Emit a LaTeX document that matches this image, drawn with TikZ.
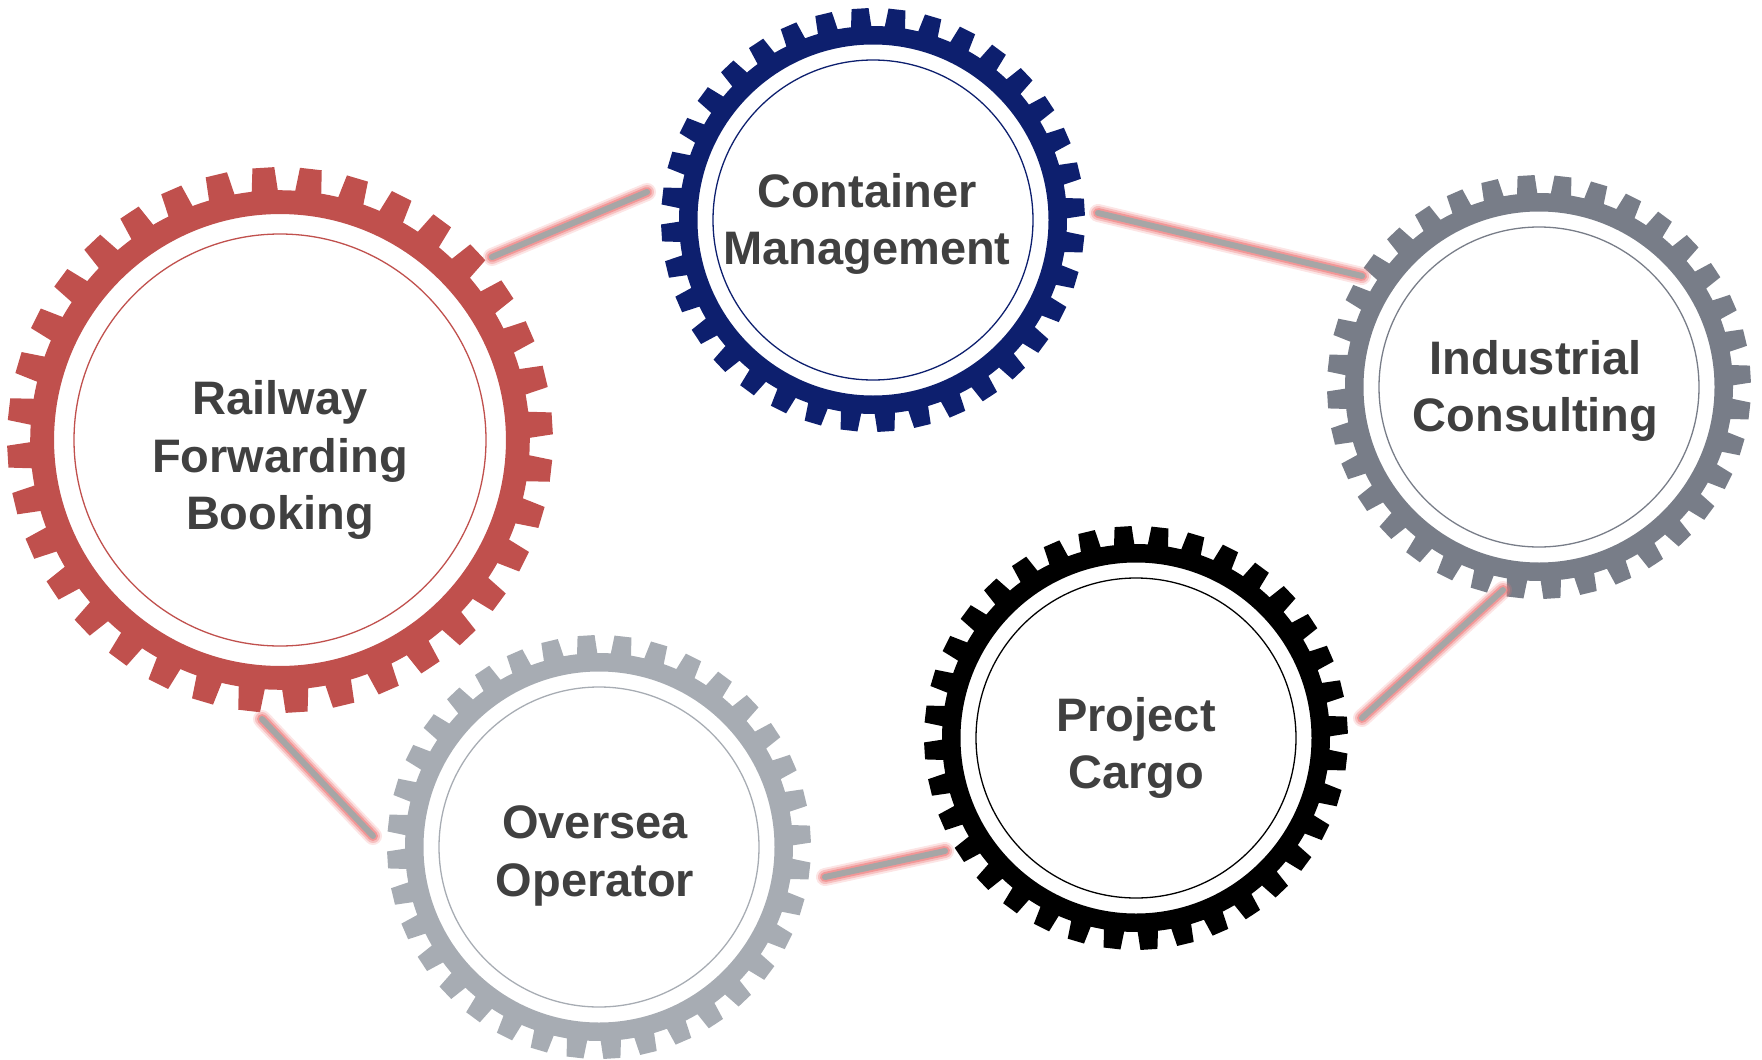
\documentclass[tikz,border=0pt]{standalone}
\usepackage{fontspec}
\setmainfont{Liberation Sans}
\usepackage{xcolor}
\usetikzlibrary{calc}

\definecolor{railred}{HTML}{C0504D}
\definecolor{contnavy}{HTML}{0D1F6E}
\definecolor{indgray}{HTML}{787D88}
\definecolor{ovgray}{HTML}{A7ACB3}
\definecolor{labelgray}{HTML}{404040}
\definecolor{linkgray}{HTML}{A6A6A6}
\definecolor{glowred}{HTML}{EE7C7C}

% gear wheel: centre, scale, colour
\newcommand{\gearwheel}[3]{%
  \begin{scope}[shift={#1},scale=#2]
    \fill[#3,even odd rule] (0.5:194)
      \foreach \k in {0,...,35} {
        -- ({3.5+10*\k-3}:194) -- ({3.5+10*\k-2.3}:212)
        -- ({3.5+10*\k+2.3}:212) -- ({3.5+10*\k+3}:194)
        arc[start angle={3.5+10*\k+3},end angle={3.5+10*\k+7},radius=194]
      } -- cycle
      (0,0) circle[radius=175.5];
    \draw[#3,line width=1.3] (0,0) circle[radius=160];
  \end{scope}}

\tikzset{
  gearlabel/.style={align=center,text=labelgray,
    font=\bfseries\fontsize{47}{57.5}\selectfont},
  link/.style={draw=linkgray,line width=6,line cap=round,
    preaction={draw=glowred,line width=18,line cap=round,opacity=0.2},
    preaction={draw=glowred,line width=14,line cap=round,opacity=0.35},
    preaction={draw=glowred,line width=10,line cap=round,opacity=0.6}}
}

\begin{document}
\begin{tikzpicture}[x=1pt,y=1pt]
  \useasboundingbox (0,0) rectangle (1762,-1060);

  % gear centres
  \coordinate (rail) at (280,-440);
  \coordinate (cont) at (873,-220);
  \coordinate (ind) at (1539,-387);
  \coordinate (proj) at (1136,-738);
  \coordinate (over) at (599,-847);

  \gearwheel{(rail)}{1.2875}{railred}
  \gearwheel{(cont)}{1}{contnavy}
  \gearwheel{(ind)}{1}{indgray}
  \gearwheel{(proj)}{1}{black}
  \gearwheel{(over)}{1}{ovgray}

  \node[gearlabel] (rail-t) at (280,-460) {Railway\\Forwarding\\Booking};
  \node[gearlabel] (cont-t) at (867,-224) {Container\\Management};
  \node[gearlabel] (ind-t) at (1535.5,-391) {Industrial\\Consulting};
  \node[gearlabel] (proj-t) at (1136,-748) {Project\\Cargo};
  \node[gearlabel] (over-t) at (595,-856) {Oversea\\Operator};

  % link ends
  \coordinate (rc-a) at (492,-257);
  \coordinate (rc-b) at (647,-192);
  \coordinate (ci-a) at (1098,-213);
  \coordinate (ci-b) at (1362,-276);
  \coordinate (ip-a) at (1503,-590);
  \coordinate (ip-b) at (1362,-718);
  \coordinate (po-a) at (945,-851);
  \coordinate (po-b) at (825,-877);
  \coordinate (ro-a) at (262,-719);
  \coordinate (ro-b) at (373,-836);

  \foreach \from/\to in {rc-a/rc-b,ci-a/ci-b,ip-a/ip-b,po-a/po-b,ro-a/ro-b}
    \draw[link] (\from) -- (\to);

\end{tikzpicture}
\end{document}
